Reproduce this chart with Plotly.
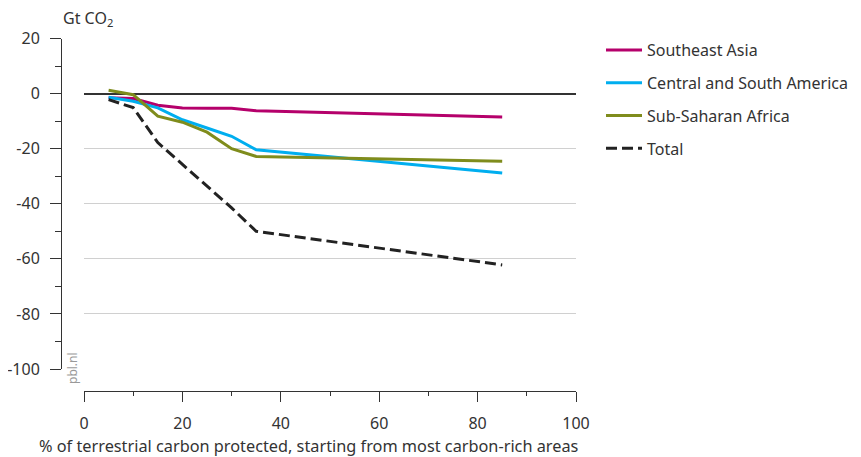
import plotly.graph_objects as go

W, H = 861, 457
OFF = 8  # page body margin

x_pct = [5, 10, 15, 20, 25, 30, 35, 85]
southeast_asia = [-1.5, -1.8, -4.2, -5.2, -5.3, -5.3, -6.2, -8.5]
central_south_america = [-1.3, -2.8, -5.2, -9.5, -12.5, -15.5, -20.4, -28.8]
sub_saharan_africa = [1.2, -0.4, -8.2, -10.4, -14.0, -20.0, -22.8, -24.6]
total = [-2.2, -5.1, -17.8, -25.8, -33.5, -41.5, -50.0, -62.2]

y_tickvals = [20, 0, -20, -40, -60, -80, -100]
y_ticktext = ["20", "0", "-20", "-40", "-60", "-80", "-100"]
x_tickvals = [0, 20, 40, 60, 80, 100]
x_ticktext = ["0", "20", "40", "60", "80", "100"]

x_title = "% of terrestrial carbon protected, starting from most carbon-rich areas"
y_title = "Gt CO<sub>2</sub>"

series = [
    ("Southeast Asia", southeast_asia, "#b5006b", "solid"),
    ("Central and South America", central_south_america, "#00aeef", "solid"),
    ("Sub-Saharan Africa", sub_saharan_africa, "#7f8c1c", "solid"),
    ("Total", total, "#222222", "11px,5px"),
]

FONT = "Noto Sans"
TXT = "#333333"

fig = go.Figure()
for i, (name, vals, color, dash) in enumerate(series):
    fig.add_trace(go.Scatter(
        x=x_pct, y=vals, name=name, mode="lines",
        line=dict(color=color, width=3, dash=dash),
        legendgroup=f"g{i}",
    ))

def px_x(p):
    return (p - OFF) / W

def px_y(p):
    return 1 - (p - OFF) / H

fig.update_layout(
    width=W, height=H,
    margin=dict(l=0, r=0, t=0, b=0),
    paper_bgcolor="white", plot_bgcolor="white",
    font=dict(family=FONT, color=TXT, size=16),
    showlegend=True,
    legend=dict(
        x=px_x(601), y=px_y(33), xanchor="left", yanchor="top",
        font=dict(size=16, color=TXT, family=FONT),
        tracegroupgap=9, itemwidth=36, bgcolor="rgba(0,0,0,0)",
    ),
    xaxis=dict(
        domain=[px_x(84), px_x(576)], range=[0, 100],
        anchor="free", position=px_y(391),
        showline=True, linecolor="#333333", linewidth=1,
        showgrid=False, zeroline=False,
        ticks="outside", ticklen=10, tickcolor="#333333", tickwidth=1,
        tickvals=x_tickvals, ticktext=x_ticktext,
        minor=dict(dtick=10, tick0=0, ticks="outside", ticklen=4, tickcolor="#333333", showgrid=False),
        tickfont=dict(size=16, color=TXT), ticklabelstandoff=8,
        automargin=False,
    ),
    yaxis=dict(
        domain=[px_y(369), px_y(38.5)], range=[-100, 20],
        anchor="free", position=px_x(61),
        showline=True, linecolor="#333333", linewidth=1,
        showgrid=True, gridcolor="#d0d0d0", gridwidth=1,
        zeroline=True, zerolinecolor="#333333", zerolinewidth=1.5,
        ticks="outside", ticklen=11, tickcolor="#333333", tickwidth=1,
        tickvals=y_tickvals, ticktext=y_ticktext,
        minor=dict(dtick=10, tick0=0, ticks="outside", ticklen=6, tickcolor="#333333", showgrid=False),
        tickfont=dict(size=16, color=TXT), ticklabelstandoff=7,
        automargin=False,
    ),
    annotations=[
        dict(text=y_title, x=px_x(61), y=px_y(18), xref="paper", yref="paper",
             xanchor="left", yanchor="middle", showarrow=False, font=dict(size=16, color=TXT)),
        dict(text=x_title, x=px_x(309), y=px_y(446), xref="paper", yref="paper",
             xanchor="center", yanchor="middle", showarrow=False, font=dict(size=16.3, color=TXT)),
        dict(text="pbl.nl", x=px_x(72), y=px_y(368), xref="paper", yref="paper",
             xanchor="center", yanchor="middle", showarrow=False, textangle=-90,
             font=dict(size=12, color="#999999")),
    ],
)

fig.write_html("out.html")
